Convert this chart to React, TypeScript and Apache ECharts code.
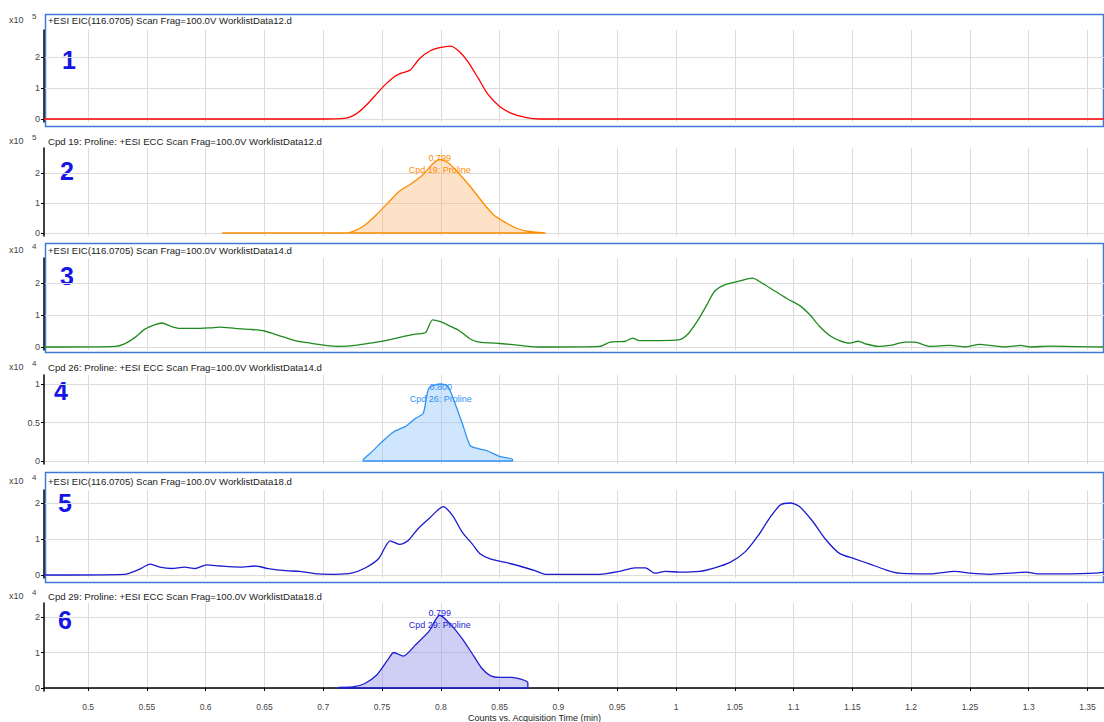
import React, { useEffect, useRef } from "react";
import * as echarts from "echarts";

// Acquisition time axis (min)
const T_MIN = 0.4625;
const T_MAX = 1.364;
const timeTicks = [0.5, 0.55, 0.6, 0.65, 0.7, 0.75, 0.8, 0.85, 0.9, 0.95, 1, 1.05, 1.1, 1.15, 1.2, 1.25, 1.3, 1.35];

// Trace 1: +ESI EIC(116.0705), WorklistData12.d  (counts x10^5)
const eic12: number[][] = [
  [0.4625, 0], [0.6, 0], [0.7, 0], [0.718, 0.02], [0.725, 0.1], [0.731, 0.25], [0.738, 0.5], [0.744, 0.75],
  [0.7525, 1.1], [0.761, 1.38], [0.768, 1.5], [0.774, 1.58], [0.782, 1.95], [0.791, 2.2], [0.799, 2.3],
  [0.808, 2.35], [0.815, 2.2], [0.823, 1.85], [0.832, 1.3], [0.84, 0.8], [0.85, 0.4], [0.859, 0.2],
  [0.872, 0.05], [0.884, 0], [1.0, 0], [1.364, 0],
];

// Trace 2: Cpd 19: Proline, ECC, WorklistData12.d  (counts x10^5)
const ecc19: number[][] = [
  [0.614, 0], [0.7, 0], [0.72, 0], [0.727, 0.08], [0.735, 0.25], [0.745, 0.6], [0.755, 1.0], [0.765, 1.4],
  [0.775, 1.65], [0.785, 1.95], [0.793, 2.3], [0.799, 2.45], [0.806, 2.35], [0.815, 2.0], [0.825, 1.55],
  [0.835, 1.05], [0.845, 0.6], [0.855, 0.35], [0.865, 0.15], [0.875, 0.05], [0.889, 0],
];

// Trace 3: +ESI EIC(116.0705), WorklistData14.d  (counts x10^4)
const eic14: number[][] = [
  [0.4625, 0], [0.523, 0.02], [0.531, 0.1], [0.54, 0.3], [0.548, 0.55], [0.557, 0.7], [0.563, 0.75],
  [0.57, 0.65], [0.578, 0.58], [0.591, 0.58], [0.604, 0.6], [0.612, 0.62], [0.625, 0.58], [0.638, 0.55],
  [0.65, 0.5], [0.663, 0.35], [0.676, 0.2], [0.689, 0.12], [0.702, 0.05], [0.714, 0.02], [0.727, 0.05],
  [0.74, 0.12], [0.753, 0.2], [0.765, 0.3], [0.778, 0.4], [0.787, 0.45], [0.793, 0.85], [0.799, 0.8],
  [0.808, 0.65], [0.816, 0.5], [0.825, 0.25], [0.833, 0.15], [0.846, 0.12], [0.859, 0.08], [0.872, 0.03],
  [0.884, 0], [0.935, 0.02], [0.944, 0.15], [0.957, 0.18], [0.963, 0.28], [0.969, 0.2], [0.986, 0.2],
  [1.002, 0.22], [1.01, 0.4], [1.018, 0.8], [1.026, 1.3], [1.033, 1.75], [1.042, 1.95], [1.053, 2.05],
  [1.065, 2.15], [1.073, 2.0], [1.084, 1.75], [1.095, 1.5], [1.105, 1.3], [1.114, 1.0], [1.122, 0.65],
  [1.131, 0.35], [1.139, 0.2], [1.148, 0.12], [1.155, 0.18], [1.161, 0.1], [1.172, 0.02], [1.182, 0.05],
  [1.195, 0.15], [1.203, 0.15], [1.216, 0.02], [1.233, 0.05], [1.246, 0], [1.258, 0.08], [1.267, 0.05],
  [1.28, 0], [1.293, 0.05], [1.301, 0], [1.318, 0.03], [1.364, 0],
];

// Trace 4: Cpd 26: Proline, ECC, WorklistData14.d  (counts x10^4)
const ecc26: number[][] = [
  [0.734, 0.02], [0.74, 0.1], [0.75, 0.25], [0.76, 0.38], [0.77, 0.45], [0.778, 0.55], [0.785, 0.62],
  [0.79, 0.95], [0.8, 1.0], [0.806, 0.97], [0.812, 0.75], [0.818, 0.5], [0.825, 0.2], [0.832, 0.16],
  [0.84, 0.13], [0.85, 0.06], [0.861, 0.02],
];

// Trace 5: +ESI EIC(116.0705), WorklistData18.d  (counts x10^4)
const eic18: number[][] = [
  [0.4625, 0], [0.531, 0.02], [0.543, 0.15], [0.553, 0.3], [0.561, 0.22], [0.571, 0.18], [0.582, 0.22],
  [0.591, 0.18], [0.601, 0.28], [0.612, 0.25], [0.629, 0.22], [0.642, 0.25], [0.653, 0.18], [0.668, 0.12],
  [0.68, 0.1], [0.696, 0.03], [0.71, 0.02], [0.724, 0.05], [0.736, 0.2], [0.747, 0.45], [0.757, 0.95],
  [0.765, 0.85], [0.772, 0.95], [0.781, 1.3], [0.791, 1.6], [0.802, 1.9], [0.81, 1.65], [0.818, 1.2],
  [0.827, 0.85], [0.833, 0.6], [0.842, 0.45], [0.855, 0.35], [0.867, 0.25], [0.88, 0.12], [0.889, 0.02],
  [0.935, 0.02], [0.952, 0.1], [0.965, 0.2], [0.974, 0.2], [0.982, 0.05], [0.991, 0.1], [1.003, 0.08],
  [1.02, 0.1], [1.033, 0.2], [1.046, 0.35], [1.059, 0.65], [1.07, 1.1], [1.08, 1.6], [1.089, 1.95],
  [1.097, 2.0], [1.105, 1.9], [1.116, 1.5], [1.127, 1.0], [1.139, 0.6], [1.152, 0.45], [1.165, 0.3],
  [1.178, 0.15], [1.19, 0.05], [1.216, 0.03], [1.237, 0.1], [1.25, 0.05], [1.267, 0.02], [1.284, 0.05],
  [1.297, 0.08], [1.31, 0.03], [1.335, 0.03], [1.356, 0.05], [1.364, 0.08],
];

// Trace 6: Cpd 29: Proline, ECC, WorklistData18.d  (counts x10^4)
const ecc29: number[][] = [
  [0.713, 0.02], [0.725, 0.03], [0.735, 0.12], [0.745, 0.35], [0.755, 0.8], [0.76, 1.0], [0.768, 0.9],
  [0.778, 1.2], [0.79, 1.6], [0.799, 2.05], [0.808, 1.8], [0.818, 1.4], [0.828, 0.9], [0.835, 0.55],
  [0.842, 0.35], [0.85, 0.3], [0.86, 0.3], [0.868, 0.25], [0.874, 0.15],
];

const titles = [
  "+ESI EIC(116.0705) Scan Frag=100.0V WorklistData12.d",
  "Cpd 19: Proline: +ESI ECC Scan Frag=100.0V WorklistData12.d",
  "+ESI EIC(116.0705) Scan Frag=100.0V WorklistData14.d",
  "Cpd 26: Proline: +ESI ECC Scan Frag=100.0V WorklistData14.d",
  "+ESI EIC(116.0705) Scan Frag=100.0V WorklistData18.d",
  "Cpd 29: Proline: +ESI ECC Scan Frag=100.0V WorklistData18.d",
];
const exponents = ["5", "5", "4", "4", "4", "4"];
const yTicks = [[0, 1, 2], [0, 1, 2], [0, 1, 2], [0, 0.5, 1], [0, 1, 2], [0, 1, 2]];
const peakTimes = [null, 0.799, null, 0.8, null, 0.799];
const peakNames = [null, "Cpd 19: Proline", null, "Cpd 26: Proline", null, "Cpd 29: Proline"];
const traces = [eic12, ecc19, eic14, ecc26, eic18, ecc29];

const FONT = "Liberation Sans, Arial, sans-serif";

// panel geometry: zero line pixel, pixels per unit, plot top
const layout = [
  { zero: 119, ppu: 31, top: 30, head: 20, numY: 60, numX: 70, box: [14, 126] },
  { zero: 233, ppu: 30, top: 148, head: 141, numY: 171, numX: 68, box: null },
  { zero: 347, ppu: 32, top: 258, head: 250, numY: 276, numX: 68, box: [243, 352] },
  { zero: 461, ppu: 77, top: 375, head: 367, numY: 391, numX: 62, box: null },
  { zero: 575, ppu: 36, top: 490, head: 481, numY: 503, numX: 66, box: [472, 582] },
  { zero: 688, ppu: 35.5, top: 603, head: 596, numY: 620, numX: 66, box: null },
];
const styles = [
  { line: "#ff0000", fill: null, width: 1.3, labelOffset: 0 },
  { line: "#ff8c00", fill: "rgba(252,180,110,0.55)", width: 1.3, labelOffset: 4 },
  { line: "#1e8a1e", fill: null, width: 1.3, labelOffset: 0 },
  { line: "#2f93f5", fill: "rgba(140,195,250,0.6)", width: 1.3, labelOffset: 9 },
  { line: "#1a1ad0", fill: null, width: 1.3, labelOffset: 0 },
  { line: "#1e1ed2", fill: "rgba(140,140,230,0.6)", width: 1.3, labelOffset: 4 },
];

const GRID_LEFT = 44;
const GRID_RIGHT = 1104;
const fmt = (v: number) => String(+v.toFixed(2));

function buildOption(): echarts.EChartsOption {
  const grid: any[] = [];
  const xAxis: any[] = [];
  const yAxis: any[] = [];
  const series: any[] = [];
  const graphic: any[] = [];

  traces.forEach((trace, i) => {
    const L = layout[i];
    const S = styles[i];
    const pad = 3;
    const last = i === traces.length - 1;
    grid.push({ left: GRID_LEFT, top: L.top, width: GRID_RIGHT - GRID_LEFT, height: L.zero + pad - L.top });
    xAxis.push({
      type: "value",
      gridIndex: i,
      min: T_MIN,
      max: T_MAX,
      offset: last ? 9 : 0,
      axisLine: { show: last, lineStyle: { color: "#000", width: 1.5 } },
      axisTick: { show: last, customValues: timeTicks, length: 3, lineStyle: { color: "#000" } },
      axisLabel: {
        show: last,
        customValues: timeTicks,
        formatter: fmt,
        fontSize: 8.5,
        fontFamily: FONT,
        color: "#444",
        margin: 2,
      },
      splitLine: { show: true, lineStyle: { color: "#dcdcdc", width: 1 } },
    });
    yAxis.push({
      type: "value",
      gridIndex: i,
      min: -pad / L.ppu,
      max: (L.zero - L.top) / L.ppu,
      axisLine: { show: true, lineStyle: { color: "#000", width: 1.5 } },
      axisTick: { show: true, customValues: yTicks[i], length: 3, lineStyle: { color: "#000" } },
      axisLabel: {
        customValues: yTicks[i],
        formatter: fmt,
        fontSize: 9,
        fontFamily: FONT,
        color: "#444",
        margin: 4,
      },
      splitLine: { show: true, lineStyle: { color: "#dcdcdc", width: 1 } },
    });

    // ECC traces are closed down to the baseline
    const data = S.fill ? [...trace, [trace[trace.length - 1][0], 0], [trace[0][0], 0], trace[0]] : trace;
    const pt = peakTimes[i];
    const peak = pt != null ? trace.find((p) => p[0] === pt) : null;
    series.push({
      type: "line",
      xAxisIndex: i,
      yAxisIndex: i,
      data,
      showSymbol: false,
      symbol: "none",
      smooth: 0.25,
      lineStyle: { color: S.line, width: S.width },
      areaStyle: S.fill ? { color: S.fill, origin: 0 } : undefined,
      markPoint: peak
        ? {
            symbol: "circle",
            symbolSize: 0,
            data: [
              {
                coord: peak,
                label: {
                  show: true,
                  position: "inside",
                  offset: [0, S.labelOffset],
                  formatter: `${(pt as number).toFixed(3)}\n${peakNames[i]}`,
                  color: S.line,
                  fontSize: 9,
                  lineHeight: 12,
                  fontFamily: FONT,
                },
              },
            ],
          }
        : undefined,
    });

    // header: scale factor + trace title
    graphic.push({
      type: "text",
      left: 9,
      top: L.head - 5,
      style: { text: "x10", fontSize: 9, fontFamily: FONT, fill: "#444" },
    });
    graphic.push({
      type: "text",
      left: 32,
      top: L.head - 8,
      style: { text: exponents[i], fontSize: 8, fontFamily: FONT, fill: "#444" },
    });
    graphic.push({
      type: "text",
      left: 48,
      top: L.head - 5,
      style: { text: titles[i], fontSize: 9.6, fontFamily: FONT, fill: "#222" },
    });
    graphic.push({
      type: "text",
      left: L.numX - 8,
      top: L.numY - 13,
      style: { text: String(i + 1), fontSize: 25, fontWeight: "bold", fontFamily: FONT, fill: "#1515e6" },
    });
    if (L.box) {
      graphic.push({
        type: "rect",
        shape: { x: 45.5, y: L.box[0] + 0.5, width: 1058, height: L.box[1] - L.box[0] },
        style: { fill: "none", stroke: "#3f7ad6", lineWidth: 1.5 },
      });
    }
  });

  graphic.push({
    type: "text",
    left: 468,
    top: 713,
    style: { text: "Counts vs. Acquisition Time (min)", fontSize: 9, fontFamily: FONT, fill: "#222" },
  });

  return { animation: false, backgroundColor: "#fff", grid, xAxis, yAxis, series, graphic };
}

export default function App() {
  const ref = useRef<HTMLDivElement>(null);
  useEffect(() => {
    if (!ref.current) return;
    const chart = echarts.init(ref.current, undefined, { renderer: "svg" });
    chart.setOption(buildOption());
    return () => chart.dispose();
  }, []);
  return <div ref={ref} style={{ position: "fixed", left: 0, top: 0, width: 1104, height: 722 }} />;
}
